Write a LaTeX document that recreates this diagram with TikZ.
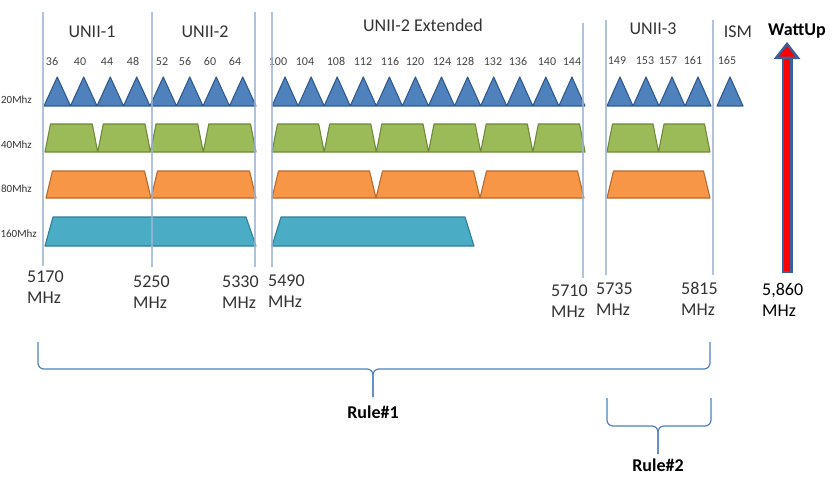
\documentclass[tikz,border=0pt]{standalone}
\usepackage{fontspec}
\setmainfont{Carlito}
\usetikzlibrary{calc}

\definecolor{bandline}{HTML}{9DB3D5}
\definecolor{chblue}{HTML}{4F81BD}
\definecolor{chblueb}{HTML}{2F5B8E}
\definecolor{chgreen}{HTML}{9BBB59}
\definecolor{chgreenb}{HTML}{6F8A3A}
\definecolor{chorange}{HTML}{F79646}
\definecolor{chorangeb}{HTML}{B8692C}
\definecolor{chteal}{HTML}{4BACC6}
\definecolor{chtealb}{HTML}{2F7F96}
\definecolor{labelgray}{HTML}{333333}
\definecolor{numgray}{HTML}{444444}
\definecolor{arrowblue}{HTML}{3A5F9A}

\tikzset{
  band/.style={draw=bandline, line width=1.3pt, opacity=.8},
  ch20/.style={fill=chblue, draw=chblueb, line width=1.1pt, line join=round},
  ch40/.style={fill=chgreen, draw=chgreenb, line width=1.1pt, line join=round},
  ch80/.style={fill=chorange, draw=chorangeb, line width=1.1pt, line join=round},
  ch160/.style={fill=chteal, draw=chtealb, line width=1.1pt, line join=round},
  title/.style={text=labelgray, font=\fontsize{18}{21.5}\selectfont, inner sep=0pt, anchor=base},
  freq/.style={text=labelgray, font=\fontsize{18}{21.5}\selectfont, inner sep=0pt, align=left, anchor=base west},
  chan/.style={text=numgray, font=\fontsize{12}{14}\selectfont, inner sep=0pt, anchor=base},
  rowlbl/.style={text=labelgray, font=\fontsize{11}{13}\selectfont, inner sep=0pt, anchor=base east},
  rulelbl/.style={font=\bfseries\fontsize{18}{21.5}\selectfont, inner sep=0pt},
  brace/.style={draw=chblue, line width=1.2pt, rounded corners=6pt},
}

\begin{document}
\begin{tikzpicture}[x=1pt,y=-1pt]
\useasboundingbox (0,0) rectangle (840,492);

% band titles
\node[title] (unii1) at (92,38) {UNII-1};
\node[title] (unii2) at (205,38) {UNII-2};
\node[title] (unii2e) at (423,32) {UNII-2 Extended};
\node[title] (unii3) at (653,35) {UNII-3};
\node[title] (ism) at (738,38) {ISM};
\node[title, text=black, font=\bfseries\fontsize{18}{21.5}\selectfont] (wattup) at (797,36) {WattUp};

% channel numbers
\foreach \c/\x in {36/52,40/80,44/107,48/133,52/162,56/185,60/210,64/235}
  \node[chan] (c\c) at (\x,66) {\c};
\foreach \c/\x in {100/278,104/305,108/336,112/363,116/390,120/415,124/442,128/465,132/493,136/518,140/547,144/572}
  \node[chan] (c\c) at (\x,66) {\c};
\foreach \c/\x in {149/617,153/645,157/668,161/693,165/727}
  \node[chan] (c\c) at (\x,65) {\c};

% row labels
\node[rowlbl] (r20) at (32,104) {20Mhz};
\node[rowlbl] (r40) at (32,149) {40Mhz};
\node[rowlbl] (r80) at (32,192) {80Mhz};
\node[rowlbl] (r160) at (37,237) {160Mhz};

% 20 MHz
\filldraw[ch20] (44,106) \foreach \i in {1,...,8} { -- ++(13.25,-29) -- ++(13.25,29) } -- cycle;
\filldraw[ch20] (272,106) \foreach \i in {1,...,12} { -- ++(13.04,-29) -- ++(13.04,29) } -- cycle;
\filldraw[ch20] (607,106) \foreach \i in {1,...,4} { -- ++(13,-29) -- ++(13,29) } -- cycle;
\filldraw[ch20] (717,106) -- ++(13,-29) -- ++(13,29) -- cycle;

% 40 MHz
\filldraw[ch40] (45,152) \foreach \i in {1,...,4} { -- ++(5.5,-28) -- ++(41.75,0) -- ++(5.5,28) } -- cycle;
\filldraw[ch40] (272,152) \foreach \i in {1,...,6} { -- ++(5.5,-28) -- ++(41.17,0) -- ++(5.5,28) } -- cycle;
\filldraw[ch40] (607,152) \foreach \i in {1,2} { -- ++(5.5,-28) -- ++(40.5,0) -- ++(5.5,28) } -- cycle;

% 80 MHz
\filldraw[ch80] (46,198) \foreach \i in {1,2} { -- ++(6.5,-27) -- ++(92,0) -- ++(6.5,27) } -- cycle;
\filldraw[ch80] (272,198) \foreach \i in {1,2,3} { -- ++(6.5,-27) -- ++(91,0) -- ++(6.5,27) } -- cycle;
\filldraw[ch80] (607,198) -- ++(6.5,-27) -- ++(90,0) -- ++(6.5,27) -- cycle;

% 160 MHz
\filldraw[ch160] (45,246) -- ++(8,-29) -- ++(193,0) -- ++(10,29) -- cycle;
\filldraw[ch160] (272,246) -- ++(9,-29) -- ++(184,0) -- ++(9,29) -- cycle;

% band edges
\draw[band] (43,12) -- (43,266);
\draw[band] (152,12) -- (152,267);
\draw[band] (255,12) -- (255,267);
\draw[band] (272,12) -- (272,267);
\draw[band] (583,23) -- (583,278);
\draw[band] (606,20) -- (606,275);
\draw[band] (713,20) -- (713,275);

% frequencies (base = last line)
\node[freq] (f5170) at (27,303.5) {5170\\MHz};
\node[freq] (f5250) at (133,308.5) {5250\\MHz};
\node[freq] (f5330) at (222,308.5) {5330\\MHz};
\node[freq] (f5490) at (268,307.5) {5490\\MHz};
\node[freq] (f5710) at (551,317.5) {5710\\MHz};
\node[freq] (f5735) at (596,315.5) {5735\\MHz};
\node[freq] (f5815) at (681,315.5) {5815\\MHz};
\node[freq, text=black] (f5860) at (762,316.5) {5,860\\MHz};

% WattUp arrow
\coordinate (wbot) at (787,273);
\coordinate (wtop) at (787,58);
\draw[arrowblue, line width=11pt] (wbot) -- (wtop);
\draw[red, line width=6pt] ($(wbot)+(0,-2.5)$) -- ($(wtop)+(0,1)$);
\filldraw[fill=red, draw=arrowblue, line width=2.5pt, line join=miter] (776,58) -- (787,44) -- (798,58) -- cycle;

% rules
\draw[brace] (38,342) |- (373,369) -- (373,397);
\draw[brace] (710,342) |- (373,369) -- (373,397) node[below=8pt, rulelbl] (rule1) {Rule\#1};
\draw[brace] (607,398) |- (658,426) -- (658,454);
\draw[brace] (711,398) |- (658,426) -- (658,454) node[below=4pt, rulelbl] (rule2) {Rule\#2};
\end{tikzpicture}
\end{document}
